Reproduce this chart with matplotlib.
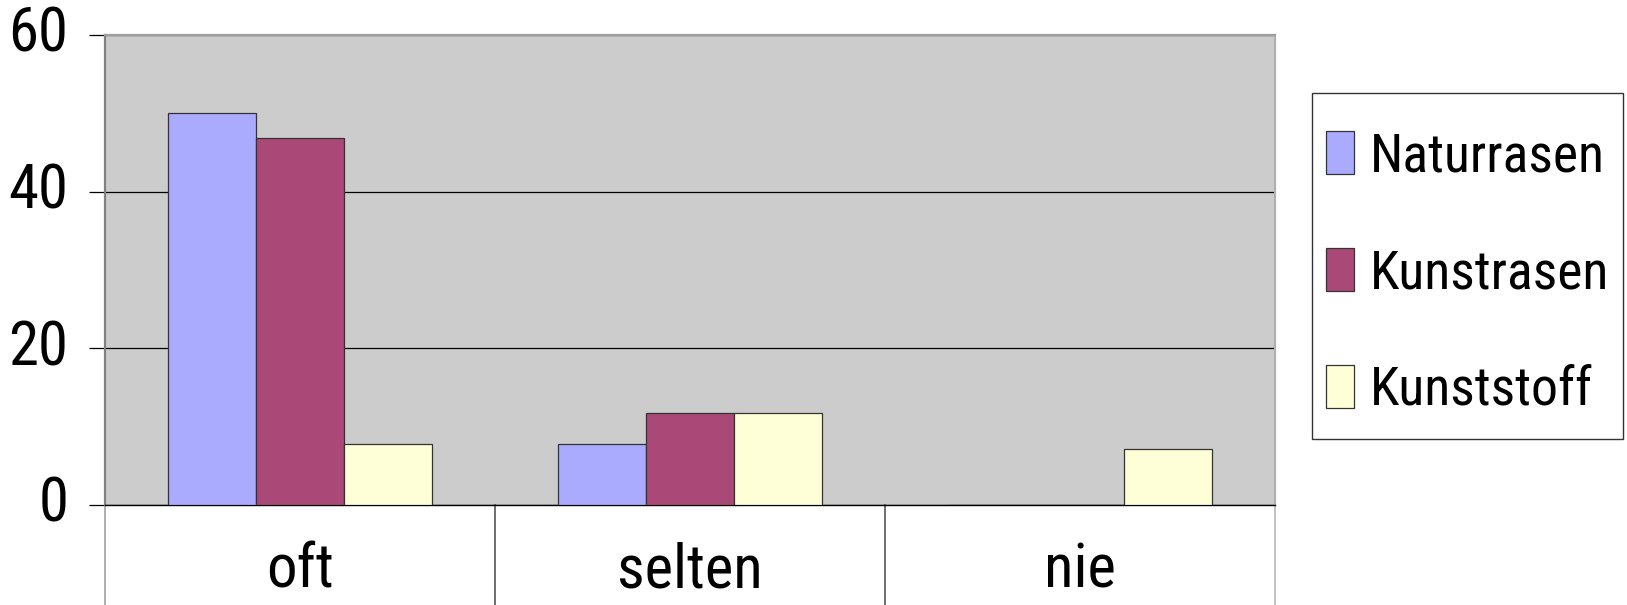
import matplotlib
matplotlib.use("Agg")
import matplotlib.pyplot as plt
import numpy as np
from matplotlib import font_manager
from matplotlib.path import Path

categories = ["oft", "selten", "nie"]
series_names = ["Naturrasen", "Kunstrasen", "Kunststoff"]
naturrasen = [50.1, 7.8, 0.0]
kunstrasen = [46.9, 11.7, 0.0]
kunststoff = [7.8, 11.7, 7.1]
yticks = [0, 20, 40, 60]

colors = ["#AAAAFF", "#AA4977", "#FFFFD7"]

# narrow / condensed sans face (reference uses an Arial Narrow style font)
entries = font_manager.fontManager.ttflist
def pick():
    prefs = ["Roboto Condensed", "Liberation Sans Narrow", "Open Sans Condensed"]
    for p in prefs:
        for f in entries:
            if f.name == p and f.weight in (400, "normal", "regular") and f.style == "normal":
                return f.fname
    return None

fname = pick()
if fname:
    base = font_manager.FontProperties(fname=fname)
else:
    base = font_manager.FontProperties(family=["Liberation Sans", "DejaVu Sans"])

DPI = 100
fig = plt.figure(figsize=(16.27, 6.05), dpi=DPI)
renderer = fig.canvas.get_renderer()

def fp(size):
    f = base.copy()
    f.set_size(size)
    return f

def width_px(s, size):
    t = fig.text(0, 0, s, fontproperties=fp(size))
    wdt = t.get_window_extent(renderer).width
    t.remove()
    return wdt

FS_LEG = min(56.0, 52.0 * 240.0 / width_px("Kunstrasen", 52.0))
FS_TICK = min(56.0, 52.0 * 60.0 / width_px("60", 52.0))
FS_CAT = min(56.0, 52.0 * 146.0 / width_px("selten", 52.0))

ax = fig.add_axes([105 / 1627, (605 - 504.7) / 605, 1170 / 1627, 469.7 / 605])
ax.set_facecolor("#CCCCCC")

x = np.arange(len(categories))
w = 0.225
for j, (vals, name, col) in enumerate(zip([naturrasen, kunstrasen, kunststoff], series_names, colors)):
    ax.bar(x + (j - 1) * w, vals, width=w, color=col, edgecolor="#333333",
           linewidth=0.9, label=name, zorder=3)

ax.set_xlim(-0.5, len(categories) - 0.5)
ax.set_ylim(0, 60)
ax.set_yticks(yticks)
ax.set_yticklabels([str(v) for v in yticks], fontproperties=fp(FS_TICK))
ax.yaxis.grid(True, color="black", linewidth=0.9, zorder=1)
ax.set_axisbelow(True)
ax.tick_params(axis="y", length=11.5, width=0.9, color="black", pad=15)
for t in ax.get_yticklabels():
    t.set_verticalalignment("center")

ax.set_xticks(x)
ax.set_xticklabels(categories, fontproperties=fp(FS_CAT))
ax.tick_params(axis="x", length=0, pad=(587.0 - 504.7) * 72 / DPI)
for t in ax.get_xticklabels():
    t.set_verticalalignment("baseline")

ax.spines["left"].set_color("#808080")
ax.spines["left"].set_linewidth(1.6)
ax.spines["top"].set_color("#A0A0A0")
ax.spines["top"].set_linewidth(1.6)
ax.spines["right"].set_color("#B0B0B0")
ax.spines["right"].set_linewidth(1.6)
ax.spines["bottom"].set_color("black")
ax.spines["bottom"].set_linewidth(1.0)

trans = ax.get_xaxis_transform()
bounds = np.arange(len(categories) + 1) - 0.5
for i, b in enumerate(bounds):
    if i == 0:
        c = "#A0A0A0"
    elif i == len(bounds) - 1:
        c = "#B8B8B8"
    else:
        c = "#555555"
    ax.plot([b, b], [0, -0.4], transform=trans, color=c, linewidth=1.2, clip_on=False)

# legend: sizes given in pixels, converted to font-size units
fs_px = FS_LEG * DPI / 72.0
pad_h = 14.0
extra_top = 24.0
extra_bot = 9.0

def frame_style(x0, y0, width, height, mutation_size):
    k = mutation_size / fs_px
    et, eb = extra_top * k, extra_bot * k
    return Path.unit_rectangle().transformed(
        matplotlib.transforms.Affine2D().scale(width, height + et + eb).translate(x0, y0 - eb))

leg = fig.legend(loc="upper left",
                 bbox_to_anchor=(1312.0 / 1627, (605 - 93.3 - extra_top) / 605),
                 prop=fp(FS_LEG), frameon=True, fancybox=False, edgecolor="black",
                 handlelength=28.0 / fs_px, handleheight=45.0 / fs_px,
                 handletextpad=16.0 / fs_px,
                 labelspacing=66.0 / fs_px,
                 borderpad=pad_h / fs_px, borderaxespad=0)
leg.get_frame().set_linewidth(1.0)
leg.get_frame().set_boxstyle(frame_style)

fig.savefig("out.png", dpi=DPI)
